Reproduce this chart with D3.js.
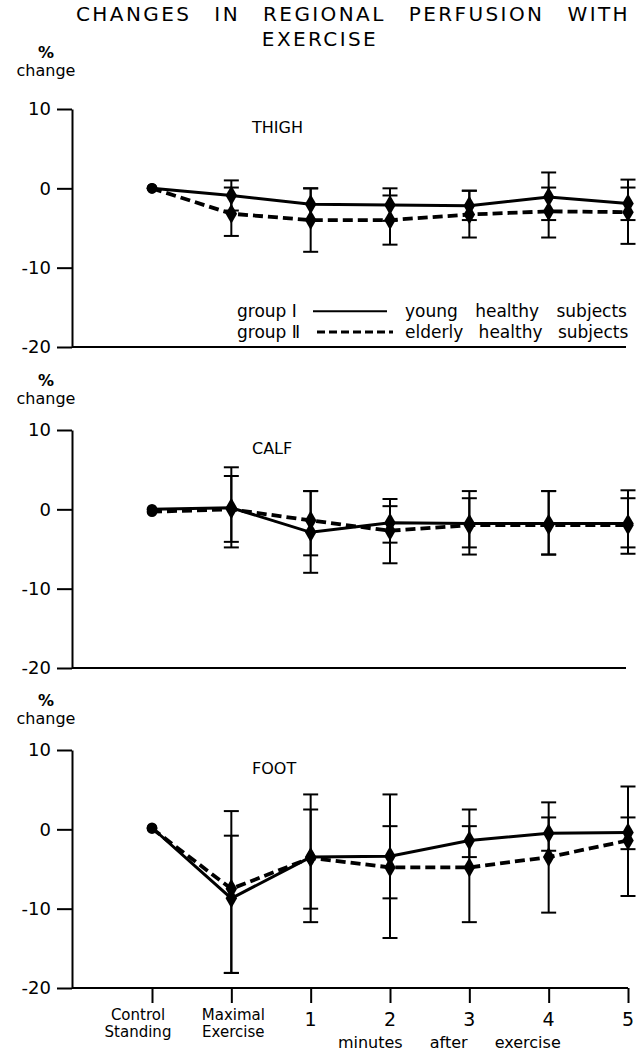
<!DOCTYPE html>
<html>
<head>
  <meta charset="UTF-8">
  <title>Changes in regional perfusion with exercise</title>
  <script src="https://cdn.jsdelivr.net/npm/d3@7"></script>
  <style>
    body { margin: 0; background: #fff; }
    text { font-family: "DejaVu Sans", sans-serif; fill: #000; }
  </style>
</head>
<body>
<script>
  // categories along the x axis
  var categories = ["Control Standing", "Maximal Exercise", "1", "2", "3", "4", "5"];
  var yTicks = [10, 0, -10, -20];

  // THIGH: means and error-bar ends (upper / lower), % change
  var thighYoung      = [0, -0.9, -2.0, -2.1, -2.2, -1.1, -1.9];
  var thighYoungHi    = [0, 1.0, 0.0, 0.0, -0.3, 2.0, 0.1];
  var thighYoungLo    = [0, -2.8, -4.0, -4.1, -4.0, -4.0, -4.0];
  var thighElderly    = [0, -3.2, -4.0, -4.0, -3.3, -2.9, -3.0];
  var thighElderlyHi  = [0, 0.1, 0.0, -0.9, -0.3, 0.1, 1.1];
  var thighElderlyLo  = [0, -6.0, -8.0, -7.1, -6.2, -6.2, -7.0];

  // CALF
  var calfYoung       = [0, 0.2, -2.9, -1.7, -1.8, -1.8, -1.8];
  var calfYoungHi     = [0, 5.3, 2.3, 0.4, 2.3, 2.3, 2.4];
  var calfYoungLo     = [0, -4.8, -8.0, -4.2, -5.7, -5.7, -5.6];
  var calfElderly     = [-0.3, 0, -1.4, -2.7, -2.0, -2.0, -2.0];
  var calfElderlyHi   = [-0.3, 4.2, 2.3, 1.3, 1.4, 2.3, 1.4];
  var calfElderlyLo   = [-0.3, -4.1, -5.8, -6.8, -4.8, -5.7, -4.8];

  // FOOT
  var footYoung       = [0.2, -8.7, -3.5, -3.4, -1.4, -0.5, -0.4];
  var footYoungHi     = [0.2, -0.8, 4.4, 0.4, 0.4, 1.5, 1.5];
  var footYoungLo     = [0.2, -18.1, -11.7, -8.7, -3.5, -2.7, -2.5];
  var footElderly     = [0.1, -7.5, -3.6, -4.8, -4.8, -3.5, -1.4];
  var footElderlyHi   = [0.1, 2.3, 2.5, 4.4, 2.5, 3.4, 5.4];
  var footElderlyLo   = [0.1, -18.1, -10.0, -13.7, -11.7, -10.5, -8.4];

  var panels = [
    { name: "THIGH", top: 109,
      young: [thighYoung, thighYoungHi, thighYoungLo],
      elderly: [thighElderly, thighElderlyHi, thighElderlyLo] },
    { name: "CALF", top: 430,
      young: [calfYoung, calfYoungHi, calfYoungLo],
      elderly: [calfElderly, calfElderlyHi, calfElderlyLo] },
    { name: "FOOT", top: 750,
      young: [footYoung, footYoungHi, footYoungLo],
      elderly: [footElderly, footElderlyHi, footElderlyLo] }
  ];

  var width = 642, height = 1051;
  var axisX = 72, panelH = 238, xEnd = 628;

  var svg = d3.select("body").append("svg")
    .attr("width", width)
    .attr("height", height);

  var x = d3.scalePoint().domain(categories).range([152, xEnd]);

  // title, words spread across the width
  var t1 = svg.append("text")
    .attr("x", 76).attr("y", 21)
    .style("font-size", "20px")
    .style("letter-spacing", "2.4px")
    .text("CHANGES IN REGIONAL PERFUSION WITH");
  var len = t1.node().getComputedTextLength();
  t1.style("word-spacing", Math.max(0, (554 - len) / 4) + "px");
  svg.append("text")
    .attr("x", 320).attr("y", 46)
    .attr("text-anchor", "middle")
    .style("font-size", "20px")
    .style("letter-spacing", "2.4px")
    .text("EXERCISE");

  function toRows(series) {
    return categories.map(function (c, i) {
      return { cat: c, v: series[0][i], hi: series[1][i], lo: series[2][i], i: i };
    });
  }

  panels.forEach(function (p, pi) {
    var y = d3.scaleLinear().domain([-20, 10]).range([p.top + panelH, p.top]);
    var g = svg.append("g");

    // "% change"
    var labY = pi === 0 ? p.top - 51 : p.top - 44;
    g.append("text").attr("x", 46).attr("y", labY).attr("text-anchor", "middle")
      .style("font-size", "16px").style("font-weight", "bold").text("%");
    g.append("text").attr("x", 46).attr("y", labY + 18).attr("text-anchor", "middle")
      .style("font-size", "16px").text("change");

    // y axis
    var yAxis = g.append("g")
      .attr("transform", "translate(" + axisX + ",0)")
      .call(d3.axisLeft(y).tickValues(yTicks).tickSize(15).tickSizeOuter(0).tickPadding(6)
        .tickFormat(d3.format("d")));
    yAxis.selectAll("path, line").attr("stroke", "#000").attr("stroke-width", 2);
    yAxis.selectAll("text").style("font-size", "18px").style("font-family", "DejaVu Sans, sans-serif")
      .text(function (d) { return d < 0 ? "-" + Math.abs(d) : d; });

    // x axis baseline
    g.append("line")
      .attr("x1", axisX).attr("x2", xEnd - (pi === 2 ? 0 : 2))
      .attr("y1", y(-20)).attr("y2", y(-20))
      .attr("stroke", "#000").attr("stroke-width", 2);

    // panel name
    g.append("text").attr("x", 252).attr("y", p.top + 24)
      .style("font-size", "16px").text(p.name);

    var line = d3.line()
      .x(function (d) { return x(d.cat); })
      .y(function (d) { return y(d.v); });

    [["young", null], ["elderly", "10,5"]].forEach(function (s) {
      var rows = toRows(p[s[0]]);

      // error bars
      var eb = g.append("g").selectAll("g").data(rows.filter(function (d) { return d.hi !== d.lo; }))
        .enter().append("g");
      eb.append("line")
        .attr("x1", function (d) { return x(d.cat); })
        .attr("x2", function (d) { return x(d.cat); })
        .attr("y1", function (d) { return y(d.hi); })
        .attr("y2", function (d) { return y(d.lo); })
        .attr("stroke", "#000").attr("stroke-width", 2);
      ["hi", "lo"].forEach(function (k) {
        eb.append("line")
          .attr("x1", function (d) { return x(d.cat) - 7.5; })
          .attr("x2", function (d) { return x(d.cat) + 7.5; })
          .attr("y1", function (d) { return y(d[k]); })
          .attr("y2", function (d) { return y(d[k]); })
          .attr("stroke", "#000").attr("stroke-width", 2);
      });

      g.append("path")
        .datum(rows)
        .attr("d", line)
        .attr("fill", "none")
        .attr("stroke", "#000")
        .attr("stroke-width", s[1] ? 3.8 : 3)
        .attr("stroke-dasharray", s[1]);

      g.append("g").selectAll("path").data(rows).enter().append("path")
        .attr("transform", function (d) { return "translate(" + x(d.cat) + "," + y(d.v) + ")"; })
        .attr("d", function (d) {
          return d3.symbol().type(d.i === 0 ? d3.symbolCircle : d3.symbolDiamond).size(d.i === 0 ? 90 : 115)();
        })
        .attr("fill", "#000");
    });

    if (pi === 0) {
      // legend
      var lg = g.append("g").style("font-size", "17px");
      var rowsY = [y(-15.5), y(-18.1)];
      lg.append("text").attr("x", 237).attr("y", rowsY[0] + 6).text("group \u2160");
      lg.append("text").attr("x", 237).attr("y", rowsY[1] + 6).text("group \u2161");
      lg.append("line").attr("x1", 313).attr("x2", 387).attr("y1", rowsY[0]).attr("y2", rowsY[0])
        .attr("stroke", "#000").attr("stroke-width", 2);
      lg.append("line").attr("x1", 317).attr("x2", 393).attr("y1", rowsY[1]).attr("y2", rowsY[1])
        .attr("stroke", "#000").attr("stroke-width", 3).attr("stroke-dasharray", "8,4");
      lg.append("text").attr("x", 405).attr("y", rowsY[0] + 6).style("word-spacing", "12px")
        .text("young healthy subjects");
      lg.append("text").attr("x", 405).attr("y", rowsY[1] + 6).style("word-spacing", "10px")
        .text("elderly healthy subjects");
    }

    if (pi === 2) {
      var xAxis = g.append("g")
        .attr("transform", "translate(0," + y(-20) + ")")
        .call(d3.axisBottom(x).tickSize(15).tickSizeOuter(0).tickFormat(""));
      xAxis.select(".domain").remove();
      xAxis.selectAll("line").attr("stroke", "#000").attr("stroke-width", 2);

      var labels = g.append("g").attr("text-anchor", "middle");
      categories.forEach(function (c, i) {
        var parts = c.split(" ");
        var cx = i < 2 ? x(c) - 14 + i * 16 : x(c);
        parts.forEach(function (t, j) {
          labels.append("text")
            .attr("x", cx)
            .attr("y", y(-20) + (i < 2 ? 32 + j * 17 : 38))
            .style("font-size", i < 2 ? "15px" : "19px")
            .text(t);
        });
      });
      labels.append("text")
        .attr("x", (x("2") + x("4")) / 2 - 20)
        .attr("y", y(-20) + 60)
        .style("font-size", "16px")
        .style("word-spacing", "22px")
        .text("minutes after exercise");
    }
  });
</script>
</body>
</html>
